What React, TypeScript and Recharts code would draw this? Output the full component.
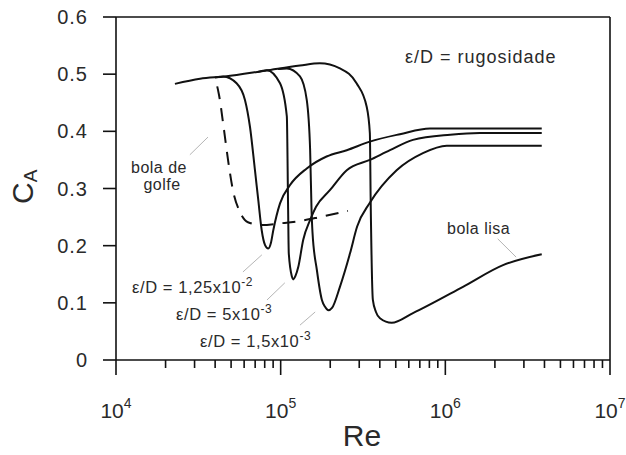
import { LineChart, Line, XAxis, YAxis, ReferenceLine } from 'recharts';

// Reynolds number (x) and drag coefficient C_A (y)
const reLisa = [2.28e4, 3.24e4, 4.59e4, 8.04e4, 1.31e5, 1.73e5, 2.29e5, 2.89e5, 3.33e5, 3.48e5, 3.52e5, 3.63e5, 3.79e5, 4.01e5, 4.72e5, 6.36e5, 1.28e6, 2.24e6, 3.85e6];
const caLisa = [0.483, 0.492, 0.496, 0.506, 0.515, 0.519, 0.51, 0.484, 0.443, 0.397, 0.28, 0.105, 0.084, 0.073, 0.065, 0.082, 0.128, 0.166, 0.185];

const reRug125 = [3.99e4, 4.48e4, 5.4e4, 6.07e4, 6.51e4, 6.98e4, 7.31e4, 7.67e4, 8.04e4, 8.41e4, 8.73e4, 9.02e4, 9.91e4, 1.14e5, 1.44e5, 1.9e5, 2.52e5, 3.48e5, 5.3e5, 8.07e5, 3.85e6];
const caRug125 = [0.494, 0.496, 0.484, 0.455, 0.408, 0.332, 0.28, 0.227, 0.201, 0.195, 0.205, 0.227, 0.274, 0.306, 0.335, 0.356, 0.367, 0.382, 0.395, 0.405, 0.405];

const reRug5 = [7.28e4, 8.22e4, 9.91e4, 1.09e5, 1.11e5, 1.12e5, 1.17e5, 1.19e5, 1.23e5, 1.28e5, 1.37e5, 1.51e5, 1.64e5, 1.99e5, 2.52e5, 3.48e5, 4.61e5, 6.36e5, 1.07e6, 1.62e6, 3.85e6];
const caRug5 = [0.504, 0.507, 0.484, 0.426, 0.262, 0.187, 0.146, 0.141, 0.147, 0.163, 0.21, 0.245, 0.268, 0.297, 0.332, 0.35, 0.367, 0.385, 0.394, 0.397, 0.397];

const reRug15 = [9.64e4, 1.09e5, 1.31e5, 1.44e5, 1.51e5, 1.54e5, 1.56e5, 1.66e5, 1.78e5, 1.86e5, 1.95e5, 2.05e5, 2.29e5, 2.64e5, 2.91e5, 3.48e5, 5.06e5, 7.31e5, 1.02e6, 3.85e6];
const caRug15 = [0.509, 0.51, 0.496, 0.455, 0.367, 0.262, 0.224, 0.157, 0.105, 0.093, 0.087, 0.091, 0.128, 0.187, 0.233, 0.275, 0.332, 0.362, 0.375, 0.375];

const reGolfe = [3.94e4, 4.05e4, 4.22e4, 4.53e4, 4.79e4, 5.13e4, 5.66e4, 6.33e4, 7.69e4, 9.91e4, 1.31e5, 1.73e5, 2.56e5];
const caGolfe = [0.493, 0.486, 0.464, 0.402, 0.35, 0.297, 0.259, 0.241, 0.236, 0.239, 0.243, 0.25, 0.261];

// leader lines from the labels to the curves: [re1, ca1, re2, ca2]
const leaders = [
  [2.81e4, 0.359, 3.62e4, 0.39],
  [5.9e4, 0.154, 7.69e4, 0.184],
  [8.26e4, 0.105, 1.06e5, 0.135],
  [1.31e5, 0.061, 1.62e5, 0.084],
  [2.08e6, 0.212, 2.69e6, 0.18],
];

const xTicks = [
  1e4, 2e4, 3e4, 4e4, 5e4, 6e4, 7e4, 8e4, 9e4,
  1e5, 2e5, 3e5, 4e5, 5e5, 6e5, 7e5, 8e5, 9e5,
  1e6, 2e6, 3e6, 4e6, 5e6, 6e6, 7e6, 8e6, 9e6, 1e7,
];
const yTicks = [0, 0.1, 0.2, 0.3, 0.4, 0.5, 0.6];

const toRows = (re: number[], ca: number[]) => re.map((r, i) => ({ re: r, ca: ca[i] }));

const FONT = '"Liberation Sans", Arial, sans-serif';
const INK = '#111';
const TEXT = '#2a2a2a';

// major ticks (powers of ten) get a long mark and a label, the rest a short mark
const XTick = ({ x, y, payload }: any) => {
  const v = payload.value as number;
  const exp = Math.round(Math.log10(v));
  const major = Math.abs(v - Math.pow(10, exp)) < 1e-6 * v;
  return (
    <g>
      <line x1={x} x2={x} y1={y} y2={y + (major ? 15 : 8)} stroke={INK} strokeWidth={1.6} />
      {major && (
        <text x={x} y={y + 58} textAnchor="middle" fontSize={21} fill={TEXT} fontFamily={FONT}>
          10<tspan dy={-10} fontSize={14}>{exp}</tspan>
        </text>
      )}
    </g>
  );
};

const YTick = ({ x, y, payload }: any) => (
  <g>
    <line x1={x - 13} x2={x} y1={y} y2={y} stroke={INK} strokeWidth={1.6} />
    <text x={x - 28} y={y + 7} textAnchor="end" fontSize={20} letterSpacing={1} fill={TEXT} fontFamily={FONT}>
      {payload.value === 0 ? '0' : payload.value.toFixed(1)}
    </text>
  </g>
);

const lineProps = {
  type: 'monotone' as const,
  dataKey: 'ca',
  stroke: INK,
  strokeWidth: 2,
  dot: false,
  isAnimationActive: false,
};

export default function App() {
  return (
    <div style={{ position: 'relative', width: 626, height: 455, background: '#fff' }}>
      <style>{'body{margin:0}'}</style>
      <LineChart width={626} height={455} margin={{ top: 17, right: 16, bottom: 55, left: 56 }}>
        <XAxis
          dataKey="re"
          type="number"
          scale="log"
          domain={[1e4, 1e7]}
          allowDataOverflow
          ticks={xTicks}
          interval={0}
          tickSize={0}
          tickMargin={0}
          tickLine={false}
          height={40}
          axisLine={{ stroke: INK, strokeWidth: 1.6 }}
          tick={<XTick />}
        />
        <YAxis
          type="number"
          domain={[0, 0.6]}
          ticks={yTicks}
          interval={0}
          tickSize={0}
          tickMargin={0}
          tickLine={false}
          width={60}
          axisLine={{ stroke: INK, strokeWidth: 1.6 }}
          tick={<YTick />}
        />
        <ReferenceLine y={0.6} stroke={INK} strokeWidth={1.6} />
        <ReferenceLine x={1e7} stroke={INK} strokeWidth={1.6} />
        {leaders.map((s, i) => (
          <ReferenceLine
            key={i}
            segment={[{ x: s[0], y: s[1] }, { x: s[2], y: s[3] }]}
            stroke="#b5b5b5"
            strokeWidth={1}
          />
        ))}
        <Line {...lineProps} data={toRows(reLisa, caLisa)} />
        <Line {...lineProps} data={toRows(reRug125, caRug125)} />
        <Line {...lineProps} data={toRows(reRug5, caRug5)} />
        <Line {...lineProps} data={toRows(reRug15, caRug15)} />
        <Line
          {...lineProps}
          data={toRows(reGolfe, caGolfe)}
          strokeDasharray="13 9"
          strokeDashoffset={13}
        />
      </LineChart>
      <svg
        width={626}
        height={455}
        style={{ position: 'absolute', left: 0, top: 0, pointerEvents: 'none' }}
        fontFamily={FONT}
        fill={TEXT}
      >
        <text x={405} y={63} fontSize={18} letterSpacing={1}>ε/D = rugosidade</text>
        <text x={159} y={173} fontSize={16} letterSpacing={0.5} textAnchor="middle">bola de</text>
        <text x={162} y={190} fontSize={16} letterSpacing={0.5} textAnchor="middle">golfe</text>
        <text x={132} y={293} fontSize={16.5} letterSpacing={0.6}>
          ε/D = 1,25x10<tspan dy={-7} fontSize={12}>-2</tspan>
        </text>
        <text x={176} y={320} fontSize={16.5} letterSpacing={0.6}>
          ε/D = 5x10<tspan dy={-7} fontSize={12}>-3</tspan>
        </text>
        <text x={200} y={347} fontSize={16.5} letterSpacing={0.6}>
          ε/D = 1,5x10<tspan dy={-7} fontSize={12}>-3</tspan>
        </text>
        <text x={447} y={234} fontSize={16} letterSpacing={0.5}>bola lisa</text>
        <text x={362} y={446} fontSize={30} textAnchor="middle">Re</text>
        <text transform="translate(33,204) rotate(-90)" fontSize={30}>
          C<tspan dy={4} fontSize={19}>A</tspan>
        </text>
      </svg>
    </div>
  );
}
